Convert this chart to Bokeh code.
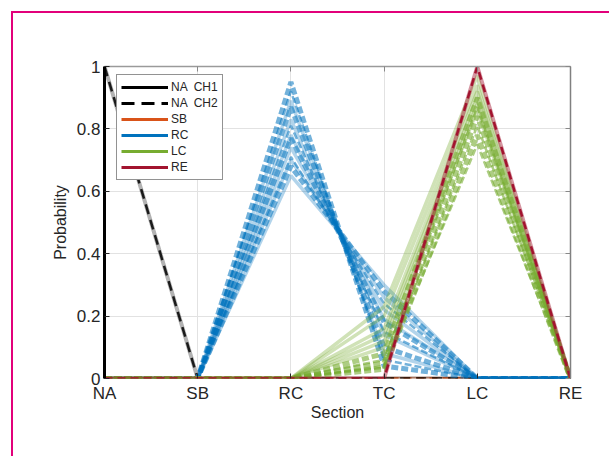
from bokeh.plotting import figure
from bokeh.models import Range1d, FixedTicker, LinearAxis, Legend, LegendItem
from bokeh.embed import file_html
from bokeh.resources import INLINE

# ---------------- data ----------------
sections = ["NA", "SB", "RC", "TC", "LC", "RE"]
y_ticks = [0, 0.2, 0.4, 0.6, 0.8, 1]
y_labels = ["0", "0.2", "0.4", "0.6", "0.8", "1"]

na_ch1 = [1, 0, 0, 0, 0, 0]
na_ch2 = [1, 0, 0, 0, 0, 0]
sb_ch1 = [0, 0, 0, 0, 0, 0]
sb_ch2 = [0, 0, 0, 0, 0, 0]

rc_ch1 = [
    [0, 0, 0.89, 0.08, 0, 0],
    [0, 0, 0.83, 0.14, 0, 0],
    [0, 0, 0.78, 0.19, 0, 0],
    [0, 0, 0.74, 0.22, 0, 0],
    [0, 0, 0.70, 0.26, 0, 0],
    [0, 0, 0.65, 0.30, 0, 0],
]
rc_ch2 = [
    [0, 0, 0.95, 0.04, 0, 0],
    [0, 0, 0.92, 0.06, 0, 0],
    [0, 0, 0.87, 0.10, 0, 0],
    [0, 0, 0.81, 0.15, 0, 0],
    [0, 0, 0.77, 0.18, 0, 0],
    [0, 0, 0.71, 0.24, 0, 0],
    [0, 0, 0.68, 0.28, 0, 0],
]
lc_ch1 = [
    [0, 0, 0, 0.23, 0.97, 0],
    [0, 0, 0, 0.20, 0.94, 0],
    [0, 0, 0, 0.16, 0.92, 0],
    [0, 0, 0, 0.14, 0.90, 0],
    [0, 0, 0, 0.12, 0.88, 0],
    [0, 0, 0, 0.10, 0.86, 0],
]
lc_ch2 = [
    [0, 0, 0, 0.08, 0.90, 0],
    [0, 0, 0, 0.06, 0.87, 0],
    [0, 0, 0, 0.05, 0.84, 0],
    [0, 0, 0, 0.04, 0.81, 0],
    [0, 0, 0, 0.03, 0.78, 0],
    [0, 0, 0, 0.035, 0.75, 0],
]
re_ch1 = [0, 0, 0, 0, 1, 0]
re_ch2 = [0, 0, 0, 0, 1, 0]

legend_labels = ["NA  CH1", "NA  CH2", "SB", "RC", "LC", "RE"]

# ---------------- styles ----------------
BLACK = "#000000"
ORANGE = "#D95319"
BLUE = "#0072BD"
GREEN = "#77AC30"
RED = "#A2142F"
TXT = "#262626"
MAG = "#E2007A"
FONT = "Liberation Sans"

xpos = list(range(len(sections)))

p = figure(width=598, height=445, x_range=Range1d(0, 5), y_range=Range1d(0, 1),
           output_backend="svg", toolbar_location=None,
           min_border_left=91, min_border_right=41, min_border_top=53,
           min_border_bottom=80)
p.styles = {"margin-left": "11px", "margin-top": "11px",
            "border-left": f"2px solid {MAG}", "border-top": f"2px solid {MAG}"}
p.outline_line_color = None
p.background_fill_color = "white"
p.border_fill_color = "white"

# axes
p.xaxis.ticker = FixedTicker(ticks=xpos)
p.xaxis.major_label_overrides = {i: s for i, s in zip(xpos, sections)}
p.yaxis.ticker = FixedTicker(ticks=y_ticks)
p.yaxis.major_label_overrides = {t: l for t, l in zip(y_ticks, y_labels)}
for ax in (p.xaxis[0], p.yaxis[0]):
    ax.major_tick_in = 5
    ax.major_tick_out = 0
    ax.minor_tick_line_color = None
    ax.major_tick_line_color = TXT
    ax.major_label_text_font = FONT
    ax.major_label_text_font_size = "17px"
    ax.major_label_text_color = TXT
    ax.axis_label_text_font = FONT
    ax.axis_label_text_font_size = "16px"
    ax.axis_label_text_font_style = "normal"
    ax.axis_label_text_color = TXT
p.xaxis.axis_label = "Section"
p.yaxis.axis_label = "Probability"
p.xaxis.axis_line_color = None
p.xaxis.major_label_standoff = 5
p.xaxis.axis_label_standoff = -2
p.yaxis.axis_line_color = BLACK
p.yaxis.axis_line_width = 3
p.yaxis.major_label_standoff = 4
p.yaxis.axis_label_standoff = 5

top_ax = LinearAxis(ticker=FixedTicker(ticks=xpos), major_tick_in=5, major_tick_out=0,
                    major_tick_line_color="#888888", minor_tick_line_color=None,
                    axis_line_color="#9A9A9A", axis_line_width=1.5,
                    major_label_text_color=None, major_label_standoff=0)
p.add_layout(top_ax, "above")
right_ax = LinearAxis(ticker=FixedTicker(ticks=y_ticks), major_tick_in=5, major_tick_out=0,
                      major_tick_line_color="#888888", minor_tick_line_color=None,
                      axis_line_color="#808080", axis_line_width=1.5,
                      major_label_text_color=None, major_label_standoff=0)
p.add_layout(right_ax, "right")

p.xgrid.grid_line_color = "#E2E2E2"
p.ygrid.grid_line_color = "#E2E2E2"

# ---------------- data lines ----------------
p.line(xpos, sb_ch1, line_color=ORANGE, line_width=3.5, line_alpha=0.5)
p.line(xpos, sb_ch2, line_color=ORANGE, line_width=2.5, line_dash="8 5")

p.line(xpos, na_ch1, line_color=BLACK, line_width=4, line_alpha=0.3)
p.line(xpos, na_ch2, line_color=BLACK, line_width=2.5, line_dash="10 6", line_alpha=0.85)

widths = [5, 2.5]
for i, row in enumerate(rc_ch1):
    p.line(xpos, row, line_color=BLUE, line_width=3.5, line_alpha=0.3)
for i, row in enumerate(rc_ch2):
    p.line(xpos, row, line_color=BLUE, line_width=widths[i % 2], line_alpha=0.55,
           line_dash="7 3")

for i, row in enumerate(lc_ch1):
    p.line(xpos, row, line_color=GREEN, line_width=3.5, line_alpha=0.35)
for i, row in enumerate(lc_ch2):
    p.line(xpos, row, line_color=GREEN, line_width=widths[i % 2], line_alpha=0.6,
           line_dash="7 3")

p.line(xpos, re_ch1, line_color=RED, line_width=4, line_alpha=0.45)
p.line(xpos, re_ch2, line_color=RED, line_width=2.5, line_dash="8 5")

# ---------------- legend ----------------
leg_styles = [(BLACK, "solid"), (BLACK, "13 7"), (ORANGE, "solid"),
              (BLUE, "solid"), (GREEN, "solid"), (RED, "solid")]
items = []
for lab, (c, d) in zip(legend_labels, leg_styles):
    # one undefined point: nothing is drawn in the plot, only the legend swatch
    r = p.line(x=[xpos[0]], y=[float("nan")], line_color=c, line_width=3, line_dash=d)
    items.append(LegendItem(label=lab, renderers=[r]))
legend = Legend(items=items, location=(12, 198), glyph_width=47, glyph_height=16,
                label_height=16, spacing=0, padding=4, margin=0, label_standoff=3,
                label_text_font=FONT, label_text_font_size="12px",
                label_text_color=TXT, border_line_color=TXT, border_line_width=1,
                background_fill_color="white", background_fill_alpha=1)
p.add_layout(legend)

open("out.html", "w").write(file_html(p, INLINE))
